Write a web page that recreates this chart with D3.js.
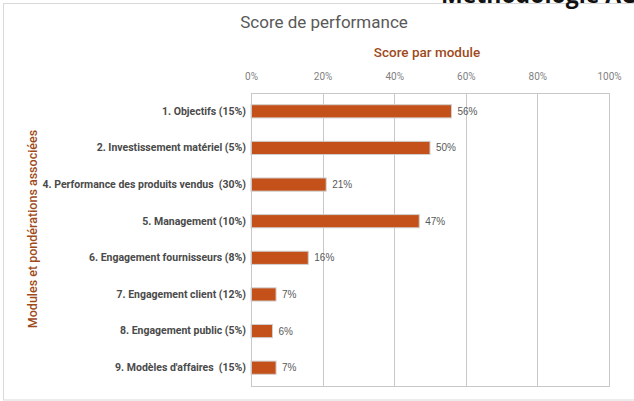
<!DOCTYPE html>
<html>
<head>
<meta charset="utf-8">
<script src="https://cdn.jsdelivr.net/npm/d3@7"></script>
<style>
  body { margin: 0; background: #fff; }
  svg { display: block; }
  .axis.y text { white-space: pre; }
</style>
</head>
<body>
<div class="plot"></div>
<script>
// DATA
var modules = [
  "1. Objectifs (15%)",
  "2. Investissement matériel (5%)",
  "4. Performance des produits vendus  (30%)",
  "5. Management (10%)",
  "6. Engagement fournisseurs (8%)",
  "7. Engagement client (12%)",
  "8. Engagement public (5%)",
  "9. Modèles d'affaires  (15%)"
];
var scores = [0.56, 0.50, 0.21, 0.47, 0.16, 0.07, 0.06, 0.07];
var ticks = [0, 0.2, 0.4, 0.6, 0.8, 1];

var w = 634;
var h = 401;
var plotLeft = 251, plotRight = 609, plotTop = 93, plotBottom = 386;
var barColor = "#c4511a";
var brown = "#9e4a1b";

var svg = d3.select(".plot").append("svg").attr("width", w).attr("height", h);

// outer frame
svg.append("rect")
  .attr("x", 3.5).attr("y", 3.5)
  .attr("width", 660).attr("height", 396.5)
  .attr("fill", "none")
  .attr("stroke", "#d9d9d9");

// text cut off at the top
svg.append("text")
  .attr("x", 441).attr("y", 3)
  .attr("font-family", "Open Sans, sans-serif")
  .attr("font-weight", 700)
  .attr("font-size", "23px")
  .attr("fill", "#111")
  .text("Méthodologie ACT");

// SCALES
var xScale = d3.scaleLinear().domain([0, 1]).range([plotLeft, plotRight]);
var yScale = d3.scaleBand().domain(modules).range([plotTop, plotBottom]).paddingInner(0.64).paddingOuter(0.32);

// gridlines
svg.append("g")
  .selectAll("line")
  .data(ticks)
  .enter()
  .append("line")
  .attr("x1", function (d) { return Math.round(xScale(d)) + 0.5; })
  .attr("x2", function (d) { return Math.round(xScale(d)) + 0.5; })
  .attr("y1", plotTop)
  .attr("y2", plotBottom)
  .attr("stroke", "#c8c8c8");

// plot frame (top / bottom)
svg.append("line")
  .attr("x1", plotLeft).attr("x2", plotRight + 1)
  .attr("y1", plotTop + 0.5).attr("y2", plotTop + 0.5)
  .attr("stroke", "#c8c8c8");
svg.append("line")
  .attr("x1", plotLeft).attr("x2", plotRight + 1)
  .attr("y1", plotBottom + 0.5).attr("y2", plotBottom + 0.5)
  .attr("stroke", "#c8c8c8");

// x axis on top
var xAxis = d3.axisTop(xScale)
  .tickValues(ticks)
  .tickFormat(d3.format(".0%"))
  .tickSize(0)
  .tickPadding(0);

svg.append("g")
  .attr("class", "axis x")
  .attr("transform", "translate(0,80)")
  .call(xAxis)
  .call(function (g) { g.select(".domain").remove(); })
  .selectAll("text")
  .attr("font-family", "Roboto, sans-serif")
  .attr("font-size", "10px")
  .attr("fill", "#7f7f7f");

// BARS
svg.append("g")
  .selectAll("rect")
  .data(scores)
  .enter()
  .append("rect")
  .attr("x", xScale(0))
  .attr("y", function (d, i) { return yScale(modules[i]); })
  .attr("width", function (d) { return xScale(d) - xScale(0); })
  .attr("height", yScale.bandwidth())
  .attr("fill", barColor)
  .attr("stroke", "#d0d0d0")
  .attr("stroke-width", 1);

// value labels
svg.append("g")
  .selectAll("text")
  .data(scores)
  .enter()
  .append("text")
  .attr("x", function (d) { return xScale(d) + 6; })
  .attr("y", function (d, i) { return yScale(modules[i]) + yScale.bandwidth() / 2; })
  .attr("dy", "0.35em")
  .attr("font-family", "Liberation Sans, Arial, sans-serif")
  .attr("font-size", "10px")
  .attr("fill", "#595959")
  .text(function (d) { return Math.round(d * 100) + "%"; });

// category labels
var yAxis = d3.axisLeft(yScale).tickSize(0).tickPadding(5);
svg.append("g")
  .attr("class", "axis y")
  .attr("transform", "translate(" + plotLeft + ",0)")
  .call(yAxis)
  .call(function (g) { g.select(".domain").attr("stroke", "#c8c8c8"); })
  .selectAll("text")
  .attr("font-family", "Roboto, sans-serif")
  .attr("font-weight", 700)
  .attr("font-size", "10.5px")
  .attr("fill", "#4a4a4a");

// titles
svg.append("text")
  .attr("x", 324).attr("y", 28)
  .attr("text-anchor", "middle")
  .attr("font-family", "Roboto, sans-serif")
  .attr("font-size", "17px")
  .attr("fill", "#595959")
  .text("Score de performance");

svg.append("text")
  .attr("x", 427).attr("y", 57)
  .attr("text-anchor", "middle")
  .attr("font-family", "Roboto, sans-serif")
  .attr("font-weight", 500)
  .attr("font-size", "13.5px")
  .attr("fill", brown)
  .text("Score par module");

svg.append("text")
  .attr("transform", "rotate(-90)")
  .attr("x", -229).attr("y", 37)
  .attr("text-anchor", "middle")
  .attr("font-family", "Roboto, sans-serif")
  .attr("font-weight", 500)
  .attr("font-size", "12.5px")
  .attr("fill", brown)
  .text("Modules et pondérations associées");
</script>
</body>
</html>
